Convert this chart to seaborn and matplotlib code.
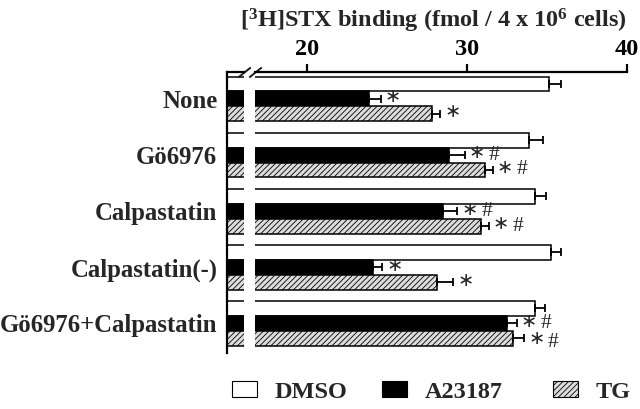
import pandas as pd
import matplotlib
matplotlib.use("Agg")
import matplotlib.pyplot as plt
import seaborn as sns
from matplotlib.patches import Patch

categories = ["None", "Gö6976", "Calpastatin", "Calpastatin(-)", "Gö6976+Calpastatin"]
treatments = ["DMSO", "A23187", "TG"]

dmso = [35.1, 33.9, 34.25, 35.25, 34.25]
a23187 = [23.9, 28.9, 28.5, 24.1, 32.5]
tg = [27.8, 31.1, 30.9, 28.1, 32.9]

dmso_err = [0.75, 0.85, 0.7, 0.65, 0.6]
a23187_err = [0.7, 0.95, 0.9, 0.6, 0.6]
tg_err = [0.5, 0.5, 0.45, 1.05, 0.65]

# significance marks: * vs None, # vs the agent alone
dmso_star = [False] * 5
dmso_hash = [False] * 5
a23187_star = [True, True, True, True, True]
a23187_hash = [False, True, True, False, True]
tg_star = [True, True, True, True, True]
tg_hash = [False, True, True, False, True]

colors = {"DMSO": "white", "A23187": "black", "TG": "#dcdcdc"}

# long table for seaborn
rows = []
for t, vals in zip(treatments, [dmso, a23187, tg]):
    for c, v in zip(categories, vals):
        rows.append({"cond": c, "treat": t, "val": v})
df = pd.DataFrame(rows)
errs = dmso_err + a23187_err + tg_err
stars = dmso_star + a23187_star + tg_star
hashes = dmso_hash + a23187_hash + tg_hash

sns.set_theme(style="white")
plt.rcParams["font.family"] = ["Liberation Serif", "DejaVu Sans"]
plt.rcParams["font.weight"] = "bold"
plt.rcParams["mathtext.fontset"] = "custom"
plt.rcParams["mathtext.rm"] = "Liberation Serif:bold"
plt.rcParams["mathtext.bf"] = "Liberation Serif:bold"
plt.rcParams["mathtext.it"] = "Liberation Serif:bold"
plt.rcParams["mathtext.default"] = "bf"
plt.rcParams["hatch.linewidth"] = 0.6

fig = plt.figure(figsize=(6.4, 4.09), dpi=100)
ax_l = fig.add_axes([0.3547, 0.1369, 0.0266, 0.687])
ax_r = fig.add_axes([0.3984, 0.1369, 0.5813, 0.687], sharey=ax_l)

for ax in (ax_l, ax_r):
    sns.barplot(data=df, y="cond", x="val", hue="treat", order=categories,
                hue_order=treatments, palette=colors, saturation=1,
                edgecolor="black", linewidth=1.1, legend=False, orient="h", ax=ax)
    for p in ax.patches[10:15]:
        p.set_hatch("//////")
    ax.set_xlabel("")
    ax.set_ylabel("")
    ax.set_ylim(4.53, -0.48)

ax_l.set_xlim(0, 1)
ax_r.set_xlim(16.75, 40)

# error bars (one-sided) and significance marks on the right axis
for i, (p, e) in enumerate(zip(ax_r.patches[:15], errs)):
    y = p.get_y() + p.get_height() / 2
    w = p.get_width()
    ax_r.errorbar(w, y, xerr=[[0], [e]], fmt="none", ecolor="black",
                  elinewidth=1.3, capsize=2.6, capthick=1.3)
    low = -3 if i == 14 else 0
    if stars[i]:
        ax_r.annotate("∗", xy=(w + e, y), xytext=(9, 1.5 + low / 2), textcoords="offset points",
                      ha="center", va="center", fontsize=14, fontweight="normal",
                      family="DejaVu Sans")
    if hashes[i]:
        ax_r.annotate("#", xy=(w + e, y), xytext=(21, 0 + low), textcoords="offset points",
                      ha="center", va="center", fontsize=15.5, fontweight="normal")

# left segment
for s in ["right", "bottom"]:
    ax_l.spines[s].set_visible(False)
for s in ["top", "left"]:
    ax_l.spines[s].set_linewidth(1.6)
    ax_l.spines[s].set_color("black")
ax_l.set_xticks([])
ax_l.tick_params(axis="y", length=0, pad=7, labelsize=17.8)
for lab in ax_l.get_yticklabels():
    lab.set_fontweight("bold")

# right segment
for s in ["right", "bottom", "left"]:
    ax_r.spines[s].set_visible(False)
ax_r.spines["top"].set_linewidth(1.6)
ax_r.spines["top"].set_color("black")
ax_r.xaxis.tick_top()
ax_r.set_xticks([20, 30, 40])
ax_r.tick_params(axis="x", direction="out", length=6, width=1.6, pad=3,
                 labelsize=17.5, top=True, bottom=False, colors="black")
ax_r.tick_params(axis="y", left=False, labelleft=False)

# break marks
brk = dict(marker=[(-1, -0.8), (1, 0.8)], markersize=9, linestyle="none",
           color="k", mec="k", mew=1.4, clip_on=False)
ax_l.plot([1], [1], transform=ax_l.transAxes, **brk)
ax_r.plot([0], [1], transform=ax_r.transAxes, **brk)

fig.text(0.677, 0.948, "[$^3$H]STX binding (fmol / 4 x 10$^6$ cells)",
         ha="center", va="center", fontsize=17.5, fontweight="bold")

# legend, one entry at a time to keep the uneven spacing
leg_x = [0.3625, 0.597, 0.864]
for t, lx in zip(treatments, leg_x):
    h = Patch(facecolor=colors[t], edgecolor="black", linewidth=0.8,
              hatch="//////" if t == "TG" else None)
    leg = fig.legend([h], [t], loc="center left", bbox_to_anchor=(lx, 0.042),
                     frameon=False, handlelength=1.03, handleheight=0.66,
                     handletextpad=0.74, borderpad=0, borderaxespad=0,
                     prop={"weight": "bold", "size": 17.5})

fig.savefig("out.png", dpi=100, facecolor="white")
